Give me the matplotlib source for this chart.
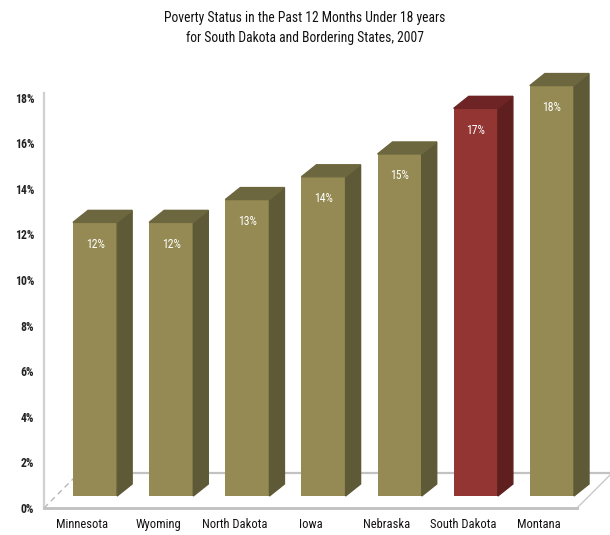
import numpy as np
import matplotlib
matplotlib.use("Agg")
import matplotlib.pyplot as plt
from matplotlib.patches import Polygon

# data
states = ["Minnesota", "Wyoming", "North Dakota", "Iowa", "Nebraska", "South Dakota", "Montana"]
poverty = [12, 12, 13, 14, 15, 17, 18]
highlight = "South Dakota"
yticks = [0, 2, 4, 6, 8, 10, 12, 14, 16, 18]

title = "Poverty Status in the Past 12 Months Under 18 years\nfor South Dakota and Bordering States, 2007"

plt.rcParams["font.family"] = ["Roboto Condensed", "DejaVu Sans"]

# colours: front / side / top
olive = ("#958a53", "#5e5936", "#6d673f")
red = ("#933633", "#5f1f1f", "#6e2424")

fig = plt.figure(figsize=(6.1, 5.35), dpi=100)
ax = fig.add_axes([44 / 610, 27 / 535, 533 / 610, 415 / 535])
ax.set_xlim(-0.5, len(states) - 0.5)
ax.set_ylim(0, 18.2)

# pixel -> data helpers so the fake 3d depth is in screen pixels
p0 = ax.transData.transform((0, 0))
p1 = ax.transData.transform((1, 1))
px_x = p1[0] - p0[0]
px_y = p1[1] - p0[1]


def dpx(dx, dy):
    return dx / px_x, dy / px_y


# floor
fx, fy = dpx(35, 35)
xl, xr = -0.5, len(states) - 0.5
ax.plot([xl + fx, xr + fx], [fy, fy], color="#c2c2c2", lw=1.6, clip_on=False, zorder=1)
ax.plot([xl, xl + fx], [0, fy], color="#b8b8b8", lw=1.0, ls=(0, (4, 3)), clip_on=False, zorder=1)
ax.plot([xr, xr + fx], [0, fy], color="#c8c8c8", lw=1.0, clip_on=False, zorder=1)

# bars
w = 0.58
sx, sy = dpx(13, 12)
dx, dy = dpx(15, 12)
x = np.arange(len(states))
for i, (name, v) in enumerate(zip(states, poverty)):
    front, side, top = red if name == highlight else olive
    x0 = i - w / 2 + sx
    x1 = i + w / 2 + sx
    b = sy
    t = sy + v
    ax.bar(i + sx, v, width=w, bottom=b, color=front, zorder=3, clip_on=False)
    ax.add_patch(Polygon([(x1, b), (x1 + dx, b + dy), (x1 + dx, t + dy), (x1, t)],
                         closed=True, color=side, zorder=3, clip_on=False))
    ax.add_patch(Polygon([(x0, t), (x1, t), (x1 + dx, t + dy), (x0 + dx, t + dy)],
                         closed=True, color=top, zorder=3, clip_on=False))
    ax.text(i + sx, t - dpx(0, 22)[1], f"{v}%", color="white", ha="center", va="center",
            fontsize=8.5, zorder=4)

ax.set_yticks(yticks)
ax.set_yticklabels([f"{t}%" for t in yticks], fontsize=8.5, fontweight="bold", color="#222222")
ax.set_xticks(x)
ax.set_xticklabels(states, fontsize=9, color="#111111")
ax.tick_params(axis="both", length=0)
ax.tick_params(axis="y", pad=7)
ax.tick_params(axis="x", pad=7)

for s in ["top", "right"]:
    ax.spines[s].set_visible(False)
ax.spines["left"].set_color("#d0d0d0")
ax.spines["left"].set_linewidth(1.6)
ax.spines["bottom"].set_color("#c0c0c0")
ax.spines["bottom"].set_linewidth(2.0)

fig.text(0.5, 1 - 28 / 535, title, ha="center", va="center", fontsize=9.8,
         linespacing=1.5, color="#111111")

fig.savefig("out.png", dpi=100)
